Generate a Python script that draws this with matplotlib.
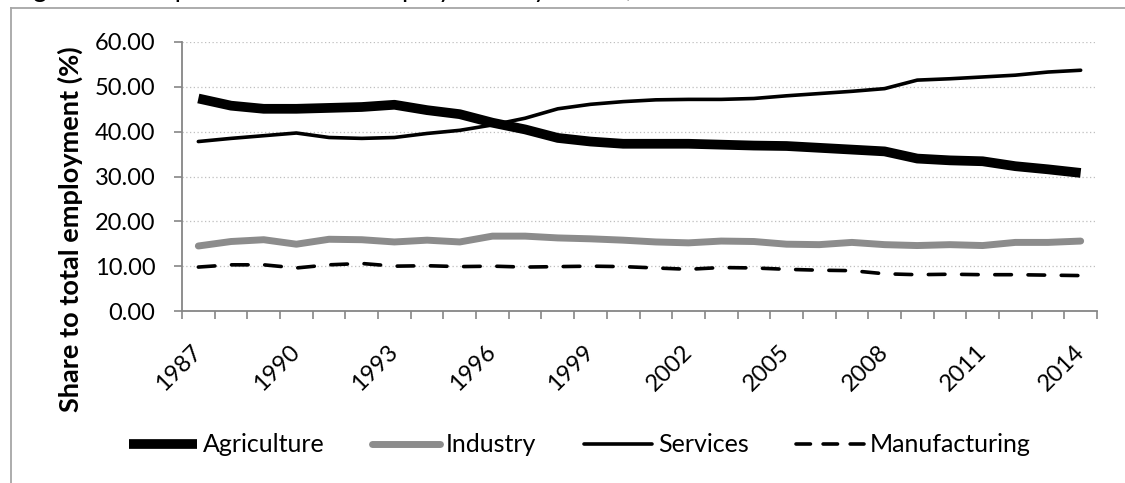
import matplotlib
matplotlib.use("Agg")
import matplotlib.pyplot as plt
from matplotlib.lines import Line2D
from matplotlib.ticker import FixedLocator, FormatStrFormatter

plt.rcParams['font.family'] = ['Lato', 'DejaVu Sans']

years = [1987, 1988, 1989, 1990, 1991, 1992, 1993, 1994, 1995, 1996,
         1997, 1998, 1999, 2000, 2001, 2002, 2003, 2004, 2005, 2006,
         2007, 2008, 2009, 2010, 2011, 2012, 2013, 2014]

agriculture = [47.4, 45.8, 45.1, 45.1, 45.3, 45.5, 46.0, 44.8, 43.9, 42.0,
               40.5, 38.6, 37.8, 37.3, 37.3, 37.3, 37.1, 36.9, 36.8, 36.4,
               36.0, 35.6, 34.0, 33.6, 33.4, 32.3, 31.6, 30.8]
industry = [14.5, 15.5, 15.9, 14.9, 16.0, 15.9, 15.4, 15.8, 15.4, 16.7,
            16.7, 16.3, 16.1, 15.8, 15.4, 15.2, 15.6, 15.5, 14.9, 14.8,
            15.3, 14.8, 14.6, 14.8, 14.6, 15.3, 15.3, 15.6]
services = [37.8, 38.5, 39.1, 39.7, 38.7, 38.5, 38.7, 39.6, 40.3, 41.5,
            43.0, 45.1, 46.1, 46.7, 47.1, 47.2, 47.2, 47.4, 48.0, 48.5,
            49.0, 49.6, 51.5, 51.8, 52.2, 52.6, 53.3, 53.7]
manufacturing = [9.8, 10.3, 10.3, 9.6, 10.3, 10.6, 10.0, 10.1, 9.9, 10.0,
                 9.8, 9.9, 10.0, 9.9, 9.6, 9.3, 9.7, 9.6, 9.3, 9.1,
                 9.0, 8.3, 8.1, 8.2, 8.1, 8.1, 8.0, 7.9]

title = "Figure 1. Composition of total employment by sector, 1987-2014"
ylabel = "Share to total employment (%)"

W, H = 1125, 483
fig = plt.figure(figsize=(W / 100, H / 100), dpi=100)
ax = fig.add_axes([182 / W, 1 - 311 / H, 915 / W, 269 / H])

axis_grey = "#868686"
x = list(range(len(years)))

ax.plot(x, agriculture, color="black", lw=7.0, solid_capstyle="butt",
        solid_joinstyle="round", label="Agriculture", zorder=3)
ax.plot(x, industry, color="#8c8c8c", lw=5.0, solid_capstyle="round",
        solid_joinstyle="round", label="Industry", zorder=3)
ax.plot(x, services, color="black", lw=2.6, solid_capstyle="round",
        solid_joinstyle="round", label="Services", zorder=4)
ax.plot(x, manufacturing, color="black", lw=2.6, dashes=(4.6, 4.6),
        dash_capstyle="round", label="Manufacturing", zorder=4)

ax.set_xlim(-0.5, len(years) - 0.5)
ax.set_ylim(0, 60)

# y axis
ax.set_yticks(range(0, 61, 10))
ax.yaxis.set_major_formatter(FormatStrFormatter("%.2f"))
ax.tick_params(axis="y", length=6, width=1.2, color=axis_grey,
               labelsize=17, pad=13)
ax.grid(axis="y", linestyle=(0, (1, 2)), color="#bfbfbf", lw=0.9, zorder=0)

# x axis: labels every 3 years, tick marks between categories
ax.set_xticks(x[::3])
ax.set_xticklabels([str(y) for y in years[::3]], rotation=45, ha="right",
                   va="center", rotation_mode="anchor")
ax.tick_params(axis="x", which="major", length=0, labelsize=17, pad=27)
ax.xaxis.set_minor_locator(FixedLocator([i - 0.5 for i in range(len(years) + 1)]))
ax.tick_params(axis="x", which="minor", length=6, width=1.2, color=axis_grey)

for side in ("top", "right"):
    ax.spines[side].set_visible(False)
for side in ("left", "bottom"):
    ax.spines[side].set_color(axis_grey)
    ax.spines[side].set_linewidth(1.3)

fig.text(70 / W, 1 - 229 / H, ylabel, rotation=90, ha="center", va="center",
         fontsize=19.5, fontweight="bold")

# title, mostly cut off at the top edge
fig.text(12 / W, 1 + 3.5 / H, title, ha="left", va="baseline", fontsize=19)

# chart area border (left and top only visible)
fig.add_artist(Line2D([11 / W, 11 / W], [0, 1 - 8 / H], transform=fig.transFigure,
                      color="#a6a6a6", lw=1.3))
fig.add_artist(Line2D([11 / W, 1], [1 - 8 / H, 1 - 8 / H], transform=fig.transFigure,
                      color="#a6a6a6", lw=1.3))

leg = fig.legend(loc="center", bbox_to_anchor=(580 / W, 1 - 445 / H), ncol=4,
                 frameon=False, fontsize=18, handlelength=2.7, handletextpad=0.25,
                 columnspacing=1.9)
# three dashes in the legend sample, as in the original
leg.get_lines()[3].set_dashes((4.0, 3.5))

fig.savefig("out.png", dpi=100)
